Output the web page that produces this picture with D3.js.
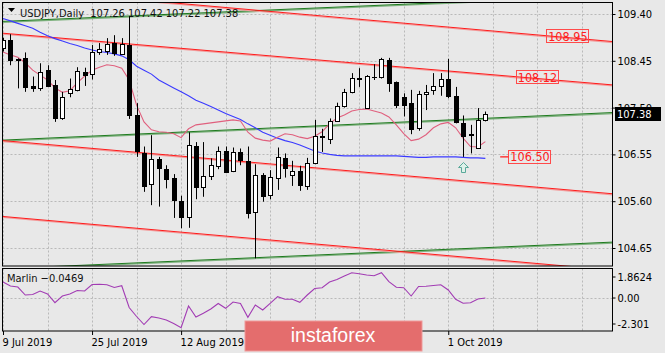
<!DOCTYPE html>
<html>
<head>
<meta charset="utf-8">
<script src="https://cdn.jsdelivr.net/npm/d3@7"></script>
<style>
html,body{margin:0;padding:0;background:#e8e8e8;}
svg{display:block;}
</style>
</head>
<body>
<svg id="chart" width="665" height="353"></svg>
<script>
// USDJPY daily, 9 Jul 2019 .. 8 Oct 2019 (bar index 0 = 9 Jul)
const opens  = [108.70,108.87,108.45,108.50,107.94,107.91,108.26,107.96,107.29,107.78,107.85,108.22,108.18,108.63,108.65,108.81,108.59,108.77,107.34,106.57,105.94,106.46,106.25,106.08,105.61,105.27,106.72,105.89,106.10,106.32,106.62,106.22,106.60,106.42,105.37,106.13,105.74,106.08,106.48,106.12,106.22,105.91,106.38,106.92,106.86,107.23,107.53,107.82,108.11,107.49,108.12,108.11,108.47,108.01,107.72,107.59,107.07,107.78,107.86,107.94,108.09,107.74,107.18,106.96,106.69,107.26];
const highs  = [108.92,108.99,108.50,108.62,108.13,108.40,108.36,108.06,107.82,108.09,108.32,108.31,108.77,108.81,108.91,108.97,108.91,109.36,107.59,106.71,106.94,106.50,106.33,106.15,105.71,107.00,106.80,106.80,106.47,106.71,106.71,106.69,106.67,106.71,106.35,106.17,106.23,106.69,106.57,106.42,106.32,106.48,107.25,107.07,107.28,107.60,107.88,108.20,108.30,108.16,108.38,108.51,108.51,108.03,107.79,107.86,107.84,107.96,108.20,108.20,108.49,107.92,107.34,107.15,107.49,107.42];
const lows   = [108.64,108.36,107.89,107.82,107.82,107.84,107.92,107.21,107.25,107.71,107.83,107.94,108.07,108.57,108.57,108.55,108.57,107.27,106.50,105.79,105.52,105.49,105.86,105.26,105.05,105.06,105.64,105.69,106.03,106.25,106.17,106.19,106.33,105.25,104.44,105.59,105.64,105.83,106.08,105.91,105.81,105.83,106.35,106.60,106.76,107.21,107.50,107.79,107.92,107.49,108.06,108.09,107.82,107.49,107.32,106.96,107.03,107.45,107.76,107.74,107.69,107.18,106.50,106.57,106.66,107.22];
const closes = [108.87,108.47,108.48,107.91,107.89,108.23,107.94,107.29,107.72,107.87,108.24,108.16,108.63,108.69,108.79,108.60,108.79,107.34,106.60,105.91,106.45,106.27,106.05,105.64,105.28,106.74,105.88,106.11,106.33,106.62,106.20,106.60,106.44,105.37,106.13,105.71,106.10,106.50,106.27,106.21,105.93,106.38,106.92,106.89,107.23,107.54,107.82,108.11,108.09,108.14,108.13,108.48,108.01,107.54,107.55,107.07,107.77,107.82,107.94,108.09,107.74,107.21,106.91,106.93,107.25,107.38];

// moving averages
const maFast = [108.63,108.57,108.52,108.41,108.26,108.16,108.06,107.90,107.81,107.84,108.00,108.14,108.26,108.32,108.37,108.35,108.30,108.06,107.55,107.21,107.05,107.01,107.00,106.97,106.89,107.07,107.15,107.17,107.19,107.21,107.23,107.25,107.23,107.00,106.88,106.84,106.82,106.90,106.97,106.95,106.90,106.87,106.92,107.01,107.17,107.29,107.35,107.43,107.46,107.47,107.43,107.39,107.31,107.15,106.97,106.83,106.86,106.95,107.09,107.17,107.20,107.09,106.88,106.71,106.70,106.81];
const maSlow = [109.31,109.26,109.21,109.16,109.11,109.03,108.96,108.90,108.85,108.80,108.76,108.71,108.67,108.64,108.62,108.59,108.55,108.47,108.34,108.26,108.18,108.06,107.98,107.90,107.82,107.74,107.65,107.59,107.52,107.45,107.38,107.32,107.26,107.17,107.09,107.00,106.94,106.88,106.83,106.79,106.74,106.68,106.62,106.58,106.55,106.53,106.52,106.52,106.52,106.52,106.52,106.52,106.52,106.52,106.51,106.50,106.49,106.49,106.50,106.50,106.50,106.50,106.49,106.48,106.48,106.47];

// Marlin oscillator
const marlin = [1.375,1.020,0.932,0.223,0.268,0.578,0.312,-0.459,0.135,0.312,0.622,0.578,1.153,1.171,1.136,0.888,1.047,-0.884,-1.681,-2.390,-1.699,-1.814,-1.991,-2.301,-2.673,-0.751,-1.726,-1.398,-1.017,-0.530,-0.955,-0.397,-0.530,-1.752,-0.663,-1.106,-0.512,0.073,-0.158,-0.158,-0.423,0.223,0.799,0.870,1.375,1.596,1.906,2.199,2.110,1.995,1.933,2.199,1.401,0.905,0.870,0.135,0.976,1.003,1.065,1.136,0.666,-0.158,-0.512,-0.459,-0.131,-0.0469];

const priceTicks = [109.40, 108.45, 107.50, 106.55, 105.60, 104.65];
const marlinTicks = [1.8624, 0.00, -2.301];
const marlinTickLabels = ["1.8624", "0.00", "-2.301"];
const xTickBars = [0, 12, 24, 60];
const xTickLabels = ["9 Jul 2019", "25 Jul 2019", "12 Aug 2019", "1 Oct 2019"];

// channel lines: [bar, price] anchors
const redLines = [
	[[0, 109.93], [82.2, 108.84]],
	[[0, 109.01], [82.2, 107.96]],
	[[0, 106.83], [82.2, 105.75]],
	[[0, 105.29], [82.2, 104.20]]
];
const greenLines = [
	[[0, 109.25], [82.2, 109.78]],
	[[0, 106.84], [82.2, 107.40]],
	[[0, 104.23], [82.2, 104.77]]
];
const levelTexts = ["108.95", "108.12", "106.50"];
const levelPrices = [108.95, 108.12, 106.50];
const levelBars = [73.2, 69.1, 68.1];
const arrowBar = 62;

const width = 665, height = 353;
const font = '"DejaVu Sans Condensed", "Liberation Sans", Arial, sans-serif';
const bg = "#e8e8e8";

const svg = d3.select("#chart");
svg.append("rect").attr("width", width).attr("height", height).attr("fill", bg);

const main = {l: 2.5, r: 612.5, t: 2.5, b: 266};
const sub  = {l: 2.5, r: 612.5, t: 268.5, b: 331};

const x  = d3.scaleLinear().domain([0, 82.2]).range([3, 613]);
const y  = d3.scaleLinear().domain([104.65, 109.40]).range([248, 14]);
const ym = d3.scaleLinear().domain([-2.301, 1.8624]).range([323.5, 276.5]);

const defs = svg.append("defs");
defs.append("clipPath").attr("id", "clipMain").append("rect")
	.attr("x", main.l).attr("y", main.t).attr("width", main.r - main.l).attr("height", main.b - main.t);
defs.append("clipPath").attr("id", "clipSub").append("rect")
	.attr("x", sub.l).attr("y", sub.t).attr("width", sub.r - sub.l).attr("height", sub.b - sub.t);

const gMain = svg.append("g").attr("clip-path", "url(#clipMain)");
const gSub  = svg.append("g").attr("clip-path", "url(#clipSub)");

// grid
const gridBars = d3.range(0, 82, 6);
[gMain, gSub].forEach(function(g, k){
	const p = k == 0 ? main : sub;
	g.selectAll(".vg").data(gridBars).enter().append("line")
		.attr("x1", d => Math.round(x(d)) + 0.5).attr("x2", d => Math.round(x(d)) + 0.5)
		.attr("y1", p.t).attr("y2", p.b)
		.attr("stroke", "#b9b9b9").attr("stroke-dasharray", "2,2");
});
gMain.selectAll(".hg").data(priceTicks).enter().append("line")
	.attr("x1", main.l).attr("x2", main.r)
	.attr("y1", d => Math.round(y(d)) + 0.5).attr("y2", d => Math.round(y(d)) + 0.5)
	.attr("stroke", "#b9b9b9").attr("stroke-dasharray", "2,2");
gSub.append("line")
	.attr("x1", sub.l).attr("x2", sub.r)
	.attr("y1", Math.round(ym(0)) + 0.5).attr("y2", Math.round(ym(0)) + 0.5)
	.attr("stroke", "#b9b9b9").attr("stroke-dasharray", "2,2");

// channel lines (dark line with a lighter shade under it)
function channel(lines, dark, light){
	lines.forEach(function(l){
		gMain.append("line")
			.attr("x1", x(l[0][0])).attr("y1", y(l[0][1]) + 1)
			.attr("x2", x(l[1][0])).attr("y2", y(l[1][1]) + 1)
			.attr("stroke", light).attr("stroke-width", 1.2);
		gMain.append("line")
			.attr("x1", x(l[0][0])).attr("y1", y(l[0][1]))
			.attr("x2", x(l[1][0])).attr("y2", y(l[1][1]))
			.attr("stroke", dark).attr("stroke-width", 1);
	});
}
channel(greenLines, "#1e7a1e", "#7fb27f");
channel(redLines, "#ff1a1a", "#f39a9a");

// moving averages
const maLine = d3.line().x((d, i) => x(i)).y(d => y(d));
gMain.append("path").datum(maSlow).attr("d", maLine)
	.attr("fill", "none").attr("stroke", "#3a3aff").attr("stroke-width", 1.1);
gMain.append("path").datum(maFast).attr("d", maLine)
	.attr("fill", "none").attr("stroke", "#e0607e").attr("stroke-width", 1.1);

// candles
const bars = d3.range(opens.length);
const candle = gMain.selectAll(".c").data(bars).enter().append("g");
candle.append("line")
	.attr("x1", i => Math.round(x(i)) + 0.5).attr("x2", i => Math.round(x(i)) + 0.5)
	.attr("y1", i => y(highs[i])).attr("y2", i => y(lows[i]))
	.attr("stroke", "#000").attr("stroke-width", 1);
candle.append("rect")
	.attr("x", i => Math.round(x(i)) - 1.5)
	.attr("width", 4)
	.attr("y", i => Math.round(y(Math.max(opens[i], closes[i]))) + 0.5)
	.attr("height", i => Math.max(0.01, Math.round(Math.abs(y(opens[i]) - y(closes[i])))))
	.attr("fill", i => closes[i] >= opens[i] ? "#fff" : "#000")
	.attr("stroke", "#000").attr("stroke-width", 1);

// level labels
levelTexts.forEach(function(t, k){
	const lx = x(levelBars[k]), ly = y(levelPrices[k]);
	if(k == 2){
		gMain.append("line").attr("x1", x(67)).attr("x2", lx).attr("y1", ly).attr("y2", ly)
			.attr("stroke", "#ff1a1a").attr("stroke-width", 1.2);
	}
	const txt = gMain.append("text").attr("x", lx + 2).attr("y", ly + 4.5)
		.attr("font-family", font).attr("font-size", "12.5px").attr("fill", "#ff2020").text(t);
	const w = txt.node().getComputedTextLength();
	gMain.insert("rect", "text")
		.attr("x", Math.round(lx) + 0.5).attr("y", Math.round(ly - 7) + 0.5)
		.attr("width", Math.round(w + 3)).attr("height", 13)
		.attr("fill", "none").attr("stroke", "#ff4a4a").attr("stroke-width", 1);
});

// up arrow under the low
const ax = Math.round(x(arrowBar)) + 0.5, ay = Math.round(y(lows[arrowBar])) + 5.5;
gMain.append("path")
	.attr("d", `M${ax},${ay} L${ax + 5},${ay + 5} L${ax + 2},${ay + 5} L${ax + 2},${ay + 10} L${ax - 2},${ay + 10} L${ax - 2},${ay + 5} L${ax - 5},${ay + 5} Z`)
	.attr("fill", "#dff1ea").attr("stroke", "#5aa99a").attr("stroke-width", 1);

// marlin
const mLine = d3.line().x((d, i) => x(i)).y(d => ym(d));
gSub.append("path").datum(marlin).attr("d", mLine)
	.attr("fill", "none").attr("stroke", "#a23cb4").attr("stroke-width", 1.1);

// panel borders
[main, sub].forEach(function(p){
	svg.append("rect").attr("x", p.l).attr("y", p.t).attr("width", p.r - p.l).attr("height", p.b - p.t)
		.attr("fill", "none").attr("stroke", "#000").attr("stroke-width", 1);
});

// axes
function styleAxis(g){
	g.select(".domain").remove();
	g.selectAll(".tick line").attr("stroke", "#000");
	g.selectAll(".tick text").attr("fill", "#000").attr("font-family", font).attr("font-size", "11px");
}
svg.append("g").attr("transform", "translate(612.5,0)")
	.call(d3.axisRight(y).tickValues(priceTicks).tickFormat(d3.format(".2f")).tickSize(3).tickPadding(2))
	.call(styleAxis);
svg.append("g").attr("transform", "translate(612.5,0)")
	.call(d3.axisRight(ym).tickValues(marlinTicks).tickFormat((d, i) => marlinTickLabels[i]).tickSize(3).tickPadding(2))
	.call(styleAxis);
svg.append("g").attr("transform", "translate(0,331)")
	.call(d3.axisBottom(x).tickValues(xTickBars).tickFormat((d, i) => xTickLabels[i]).tickSize(4).tickPadding(3))
	.call(styleAxis)
	.selectAll(".tick text").attr("text-anchor", "start").attr("dx", -1);

// last price box (covers most of the 107.50 tick, as in MT4)
const last = closes[closes.length - 1];
svg.append("rect").attr("x", 615).attr("y", Math.round(y(last)) - 7).attr("width", 46).attr("height", 14).attr("fill", "#000");
svg.append("text").attr("x", 617).attr("y", Math.round(y(last)) + 4)
	.attr("font-family", font).attr("font-size", "11px").attr("fill", "#fff").text(d3.format(".2f")(last));

// title
svg.append("path").attr("d", "M8,8 L15,8 L11.5,12 Z").attr("fill", "#000");
svg.append("text").attr("x", 20).attr("y", 17).attr("xml:space", "preserve")
	.attr("font-family", font).attr("font-size", "11px").attr("fill", "#111")
	.text("USDJPY,Daily  " + [opens, highs, lows, closes].map(a => d3.format(".2f")(a[a.length - 1])).join(" "));
svg.append("text").attr("x", 7).attr("y", 282)
	.attr("font-family", font).attr("font-size", "11px").attr("fill", "#111")
	.text("Marlin " + d3.format(".4f")(marlin[marlin.length - 1]));

// watermark
svg.append("rect").attr("x", 245).attr("y", 321).attr("width", 177).attr("height", 30)
	.attr("fill", "#e46d6d").attr("stroke", "#ef9a9a").attr("stroke-width", 1);
svg.append("text").attr("x", 333).attr("y", 342).attr("text-anchor", "middle")
	.attr("font-family", '"Liberation Sans", Arial, sans-serif').attr("font-size", "19.5px").attr("fill", "#fff")
	.text("instaforex");
</script>
</body>
</html>
